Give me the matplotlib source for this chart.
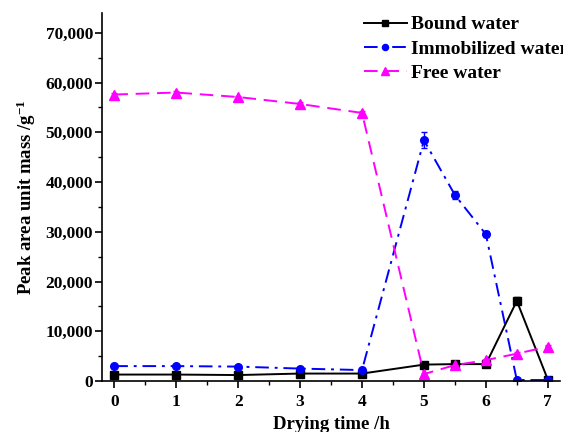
import matplotlib
matplotlib.use("Agg")
import matplotlib.pyplot as plt
from matplotlib.lines import Line2D
from matplotlib.ticker import MultipleLocator, FuncFormatter

plt.rcParams['font.family'] = ['Liberation Serif', 'DejaVu Serif']
plt.rcParams['font.weight'] = 'bold'
plt.rcParams['mathtext.fontset'] = 'custom'
plt.rcParams['mathtext.rm'] = 'Liberation Serif:bold'
plt.rcParams['mathtext.it'] = 'Liberation Serif:bold'
plt.rcParams['mathtext.bf'] = 'Liberation Serif:bold'

# Drying time (h)
time_h = [0, 1, 2, 3, 4, 5, 5.5, 6, 6.5, 7]

# Peak area per unit mass
bound_water = [1300, 1300, 1200, 1500, 1500, 3300, 3400, 3400, 16100, 300]
bound_err = [200, 200, 200, 200, 200, 300, 300, 300, 700, 200]

immobilized_water = [3000, 3000, 2900, 2500, 2200, 48400, 37400, 29500, 200, 200]
immobilized_err = [200, 200, 200, 200, 200, 1600, 800, 600, 100, 100]

free_water = [57600, 58000, 57100, 55700, 53900, 1400, 3200, 4200, 5500, 6900]
free_err = [300, 300, 300, 300, 300, 300, 300, 300, 300, 300]

labels = ['Bound water', 'Immobilized water', 'Free water']
colors = ['black', '#0000FF', '#FF00FF']
styles = ['-', (0, (7, 3, 1.5, 3)), (0, (7, 4))]
markers = ['s', 'o', '^']
msizes = [5.5, 5.5, 6.5]

fig = plt.figure(figsize=(5.63, 4.32), dpi=100)
ax = fig.add_axes([0.181, 0.118, 0.814, 0.852])

series = [(bound_water, bound_err), (immobilized_water, immobilized_err),
          (free_water, free_err)]
for (vals, errs), lab, c, ls, m, ms in zip(series, labels, colors, styles,
                                           markers, msizes):
    ax.errorbar(time_h, vals, yerr=errs, color=c, linestyle=ls, marker=m,
                markersize=ms, linewidth=1.4, capsize=2.5, elinewidth=1.0)

ax.set_xlim(-0.2, 7.2)
ax.set_ylim(0, 74000)
ax.xaxis.set_major_locator(MultipleLocator(1))
ax.xaxis.set_minor_locator(MultipleLocator(0.5))
ax.yaxis.set_major_locator(MultipleLocator(10000))
ax.yaxis.set_minor_locator(MultipleLocator(5000))
ax.yaxis.set_major_formatter(FuncFormatter(lambda v, p: f"{int(v):,}"))

for side in ('top', 'right'):
    ax.spines[side].set_visible(False)
for side in ('left', 'bottom'):
    ax.spines[side].set_linewidth(1.2)

ax.tick_params(which='major', direction='out', length=5, width=1.2,
               labelsize=12.5, pad=4)
ax.tick_params(axis='y', which='major', pad=1.5)
ax.tick_params(which='minor', direction='out', length=3, width=1.0)
for lab in ax.get_xticklabels() + ax.get_yticklabels():
    lab.set_fontweight('bold')

ax.set_xlabel('Drying time /h', fontsize=13.5, fontweight='bold', labelpad=5)
ax.set_ylabel('Peak area unit mass /g$^{-1}$', fontsize=13.5, fontweight='bold',
              labelpad=5)

handles = [Line2D([], [], color=c, linestyle=ls, marker=m, markersize=ms * 0.8,
                  linewidth=1.4)
           for c, ls, m, ms in zip(colors, styles, markers, msizes)]
ax.legend(handles, labels, loc='upper left', bbox_to_anchor=(0.622, 0.995),
          bbox_transform=fig.transFigure, frameon=False,
          prop={'family': 'Liberation Serif', 'weight': 'bold', 'size': 14},
          handlelength=2.2, handletextpad=0.25, labelspacing=0.35,
          borderpad=0.2)

fig.savefig('out.png', dpi=100)
